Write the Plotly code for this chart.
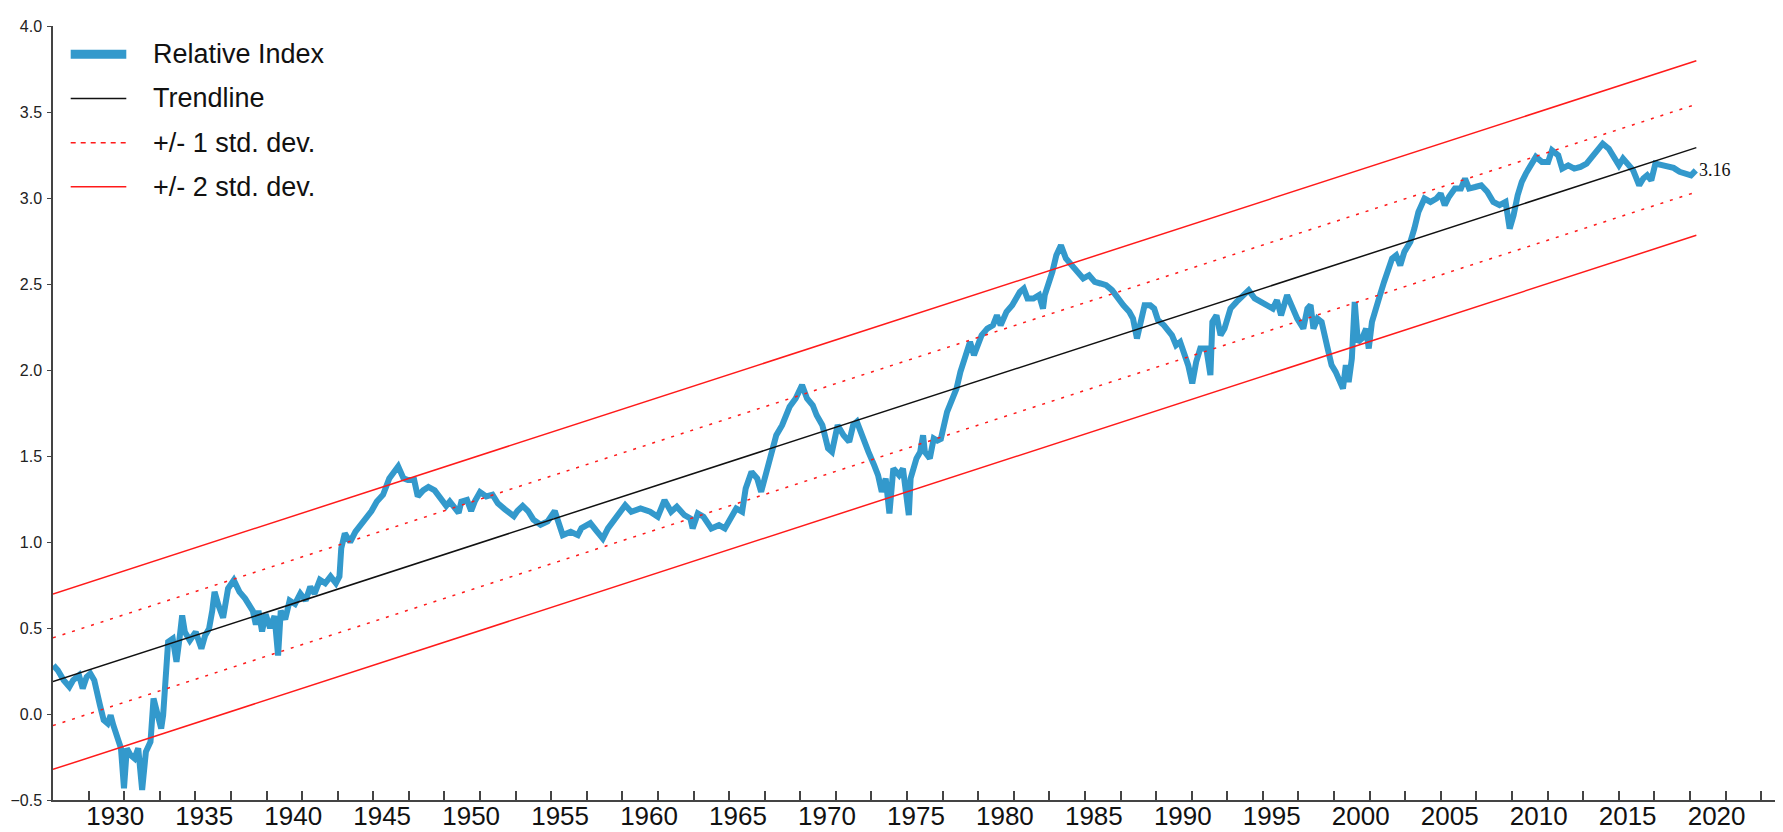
import plotly.graph_objects as go

# ---------------- data ----------------
years = [
    1926.52, 1926.77, 1927.10, 1927.42, 1927.63, 1927.96, 1928.17, 1928.39, 1928.60, 1928.82,
    1929.14, 1929.35, 1929.57, 1929.74, 1929.89, 1930.11, 1930.32, 1930.49, 1930.65, 1930.86,
    1931.08, 1931.29, 1931.51, 1931.72, 1931.98, 1932.15, 1932.37, 1932.58, 1932.69, 1932.84,
    1932.97, 1933.23, 1933.44, 1933.61, 1933.76, 1933.91, 1934.19, 1934.52, 1934.84, 1935.05,
    1935.27, 1935.45, 1935.58, 1935.80, 1936.06, 1936.34, 1936.66, 1936.98, 1937.30, 1937.73,
    1937.90, 1938.05, 1938.25, 1938.45, 1938.70, 1938.95, 1939.15, 1939.30, 1939.55, 1939.80,
    1940.10, 1940.40, 1940.70, 1940.96, 1941.20, 1941.50, 1941.80, 1942.10, 1942.40, 1942.60,
    1942.70, 1942.90, 1943.20, 1943.50, 1943.80, 1944.10, 1944.40, 1944.70, 1945.05, 1945.40,
    1945.65, 1945.90, 1946.20, 1946.45, 1946.80, 1947.00, 1947.30, 1947.60, 1947.95, 1948.27,
    1948.60, 1948.80, 1949.10, 1949.30, 1949.45, 1949.77, 1950.00, 1950.20, 1950.50, 1950.85,
    1951.20, 1951.50, 1951.90, 1952.40, 1952.60, 1952.90, 1953.20, 1953.50, 1953.90, 1954.30,
    1954.70, 1954.90, 1955.15, 1955.60, 1956.00, 1956.20, 1956.70, 1957.00, 1957.40, 1957.69,
    1958.12, 1958.66, 1959.00, 1959.52, 1960.06, 1960.49, 1960.87, 1961.24, 1961.56, 1961.99,
    1962.32, 1962.45, 1962.74, 1963.06, 1963.50, 1963.93, 1964.26, 1964.58, 1964.90, 1965.23,
    1965.43, 1965.76, 1966.08, 1966.30, 1966.50, 1966.72, 1966.98, 1967.15, 1967.48, 1967.70,
    1967.90, 1968.24, 1968.60, 1968.88, 1969.20, 1969.42, 1969.74, 1970.06, 1970.28, 1970.60,
    1970.93, 1971.25, 1971.47, 1971.68, 1972.00, 1972.33, 1972.65, 1972.87, 1973.08, 1973.30,
    1973.51, 1973.73, 1974.05, 1974.27, 1974.60, 1974.70, 1975.03, 1975.24, 1975.40, 1975.50,
    1975.78, 1976.00, 1976.20, 1976.40, 1976.75, 1977.07, 1977.28, 1977.50, 1977.83, 1978.04,
    1978.26, 1978.47, 1978.69, 1979.01, 1979.33, 1979.55, 1979.76, 1980.09, 1980.41, 1980.84,
    1981.06, 1981.27, 1981.60, 1981.92, 1982.14, 1982.24, 1982.46, 1982.67, 1982.89, 1983.15,
    1983.43, 1983.75, 1984.08, 1984.40, 1984.73, 1985.05, 1985.37, 1985.69, 1986.02, 1986.34,
    1986.66, 1986.99, 1987.20, 1987.42, 1987.63, 1987.85, 1988.17, 1988.39, 1988.60, 1988.94,
    1989.39, 1989.62, 1989.85, 1990.07, 1990.30, 1990.53, 1990.75, 1990.98, 1991.32, 1991.55,
    1991.66, 1991.89, 1992.12, 1992.34, 1992.68, 1993.02, 1993.36, 1993.70, 1994.04, 1994.38,
    1994.72, 1995.06, 1995.29, 1995.52, 1995.86, 1996.09, 1996.43, 1996.77, 1997.00, 1997.18,
    1997.34, 1997.57, 1997.80, 1998.14, 1998.36, 1998.59, 1998.82, 1999.00, 1999.16, 1999.32,
    1999.50, 1999.66, 1999.84, 2000.07, 2000.30, 2000.45, 2000.63, 2000.86, 2001.08, 2001.31,
    2001.54, 2001.76, 2001.99, 2002.22, 2002.45, 2002.79, 2003.01, 2003.24, 2003.58, 2003.92,
    2004.26, 2004.49, 2004.72, 2004.95, 2005.29, 2005.63, 2005.86, 2006.09, 2006.43, 2006.77,
    2007.11, 2007.45, 2007.80, 2008.14, 2008.37, 2008.59, 2008.82, 2009.05, 2009.28, 2009.50,
    2009.84, 2010.18, 2010.53, 2010.75, 2011.10, 2011.32, 2011.66, 2012.00, 2012.35, 2012.69,
    2013.03, 2013.37, 2013.60, 2013.94, 2014.28, 2014.51, 2014.74, 2014.97, 2015.31, 2015.65,
    2015.88, 2016.10, 2016.33, 2016.56, 2016.90, 2017.24, 2017.58, 2017.92, 2018.26, 2018.56,
    2018.83,
]
relative_index = [
    0.283, 0.254, 0.196, 0.158, 0.196, 0.225, 0.148, 0.216, 0.235, 0.196,
    0.051, -0.036, -0.055, -0.007, -0.065, -0.142, -0.200, -0.432, -0.200, -0.239,
    -0.258, -0.200, -0.442, -0.220, -0.162, 0.090, -0.007, -0.084, -0.007, 0.225,
    0.419, 0.438, 0.303, 0.438, 0.573, 0.477, 0.428, 0.477, 0.380, 0.457,
    0.496, 0.600, 0.710, 0.632, 0.560, 0.730, 0.778, 0.710, 0.671, 0.600,
    0.520, 0.600, 0.480, 0.580, 0.500, 0.570, 0.340, 0.600, 0.550, 0.660,
    0.640, 0.700, 0.660, 0.740, 0.700, 0.780, 0.760, 0.800, 0.760, 0.800,
    0.963, 1.050, 1.000, 1.060, 1.100, 1.150, 1.180, 1.235, 1.275, 1.370,
    1.400, 1.440, 1.370, 1.360, 1.360, 1.265, 1.300, 1.320, 1.300, 1.255,
    1.210, 1.235, 1.200, 1.170, 1.235, 1.245, 1.180, 1.235, 1.290, 1.265,
    1.275, 1.225, 1.190, 1.150, 1.180, 1.210, 1.180, 1.130, 1.100, 1.120,
    1.180, 1.120, 1.040, 1.060, 1.040, 1.080, 1.110, 1.070, 1.020, 1.079,
    1.137, 1.214, 1.176, 1.195, 1.176, 1.147, 1.243, 1.176, 1.205, 1.156,
    1.137, 1.079, 1.166, 1.147, 1.079, 1.098, 1.079, 1.137, 1.195, 1.176,
    1.311, 1.408, 1.369, 1.292, 1.369, 1.467, 1.563, 1.621, 1.679, 1.737,
    1.786, 1.834, 1.912, 1.834, 1.795, 1.737, 1.679, 1.544, 1.524, 1.679,
    1.621, 1.583, 1.679, 1.699, 1.602, 1.524, 1.447, 1.389, 1.292, 1.369,
    1.166, 1.427, 1.389, 1.427, 1.156, 1.369, 1.486, 1.524, 1.620, 1.524,
    1.486, 1.602, 1.590, 1.600, 1.757, 1.834, 1.892, 1.989, 2.086, 2.164,
    2.086, 2.144, 2.202, 2.241, 2.260, 2.318, 2.260, 2.338, 2.376, 2.454,
    2.473, 2.415, 2.415, 2.435, 2.357, 2.435, 2.493, 2.571, 2.667, 2.725,
    2.648, 2.609, 2.571, 2.532, 2.551, 2.512, 2.503, 2.493, 2.464, 2.415,
    2.376, 2.338, 2.299, 2.183, 2.299, 2.376, 2.376, 2.357, 2.290, 2.260,
    2.202, 2.144, 2.163, 2.105, 2.028, 1.922, 2.047, 2.125, 2.125, 1.970,
    2.280, 2.318, 2.202, 2.241, 2.357, 2.396, 2.435, 2.464, 2.416, 2.396,
    2.377, 2.357, 2.406, 2.318, 2.435, 2.377, 2.299, 2.241, 2.357, 2.377,
    2.241, 2.299, 2.280, 2.125, 2.028, 1.989, 1.930, 1.892, 2.028, 1.930,
    2.067, 2.396, 2.163, 2.183, 2.241, 2.125, 2.280, 2.377, 2.435, 2.512,
    2.590, 2.648, 2.667, 2.609, 2.687, 2.745, 2.822, 2.919, 2.997, 2.977,
    2.997, 3.026, 2.958, 3.006, 3.055, 3.055, 3.113, 3.055, 3.064, 3.074,
    3.036, 2.977, 2.958, 2.977, 2.822, 2.900, 3.016, 3.094, 3.142, 3.181,
    3.239, 3.210, 3.210, 3.277, 3.248, 3.171, 3.190, 3.171, 3.181, 3.200,
    3.248, 3.287, 3.316, 3.287, 3.219, 3.190, 3.229, 3.200, 3.161, 3.074,
    3.113, 3.132, 3.103, 3.200, 3.190, 3.181, 3.175, 3.152, 3.142, 3.132,
    3.160,
]

# straight lines: value at first and last year
line_years = [1926.5, 2018.86]
trendline = [0.188, 3.293]
plus_2sd = [0.698, 3.798]
plus_1sd = [0.443, 3.545]
minus_1sd = [-0.067, 3.035]
minus_2sd = [-0.322, 2.783]

label_years = [1930, 1935, 1940, 1945, 1950, 1955, 1960, 1965, 1970, 1975,
               1980, 1985, 1990, 1995, 2000, 2005, 2010, 2015, 2020]
minor_tick_years = [1928.5 + 2 * i for i in range(48)]
y_ticks = [-0.5, 0.0, 0.5, 1.0, 1.5, 2.0, 2.5, 3.0, 3.5, 4.0]

legend_names = ["Relative Index", "Trendline", "+/- 1 std. dev.", "+/- 2 std. dev."]

# ---------------- styling ----------------
BLUE = "#3399cc"
RED = "#ff1a1a"
SANS = "Liberation Sans, Arial, sans-serif"
DOT = "3px,7px"

fig = go.Figure()

fig.add_trace(go.Scatter(x=years, y=relative_index, mode="lines",
                         line=dict(color=BLUE, width=6), showlegend=False,
                         name=legend_names[0]))
for vals, dash in [(plus_2sd, "solid"), (minus_2sd, "solid"),
                   (plus_1sd, DOT), (minus_1sd, DOT)]:
    fig.add_trace(go.Scatter(x=line_years, y=vals, mode="lines",
                             line=dict(color=RED, width=1.5, dash=dash),
                             showlegend=False))
fig.add_trace(go.Scatter(x=line_years, y=trendline, mode="lines", xaxis="x2",
                         line=dict(color="#111111", width=1.5), showlegend=False,
                         name=legend_names[1]))

X_RANGE = [1926.5, 2023.9]
fig.update_layout(
    width=1783, height=832,
    paper_bgcolor="white", plot_bgcolor="white",
    margin=dict(l=45, r=5, t=17.5, b=40.3, autoexpand=False),
    showlegend=False,
    xaxis=dict(range=X_RANGE, tickvals=label_years, ticktext=[str(v) for v in label_years],
               ticks="", showgrid=False, zeroline=False,
               showline=True, linecolor="#444444", linewidth=2,
               tickfont=dict(family=SANS, size=26, color="#111111"),
               ticklabelstandoff=-8),
    xaxis2=dict(range=X_RANGE, overlaying="x", anchor="y", side="bottom",
                tickvals=minor_tick_years, showticklabels=False,
                ticks="inside", ticklen=9, tickwidth=1.5, tickcolor="#444444",
                showgrid=False, zeroline=False, showline=False),
    yaxis=dict(range=[-0.5, 4.0], tickvals=y_ticks, tickformat=".1f",
               ticks="outside", ticklen=4, tickwidth=1.2, tickcolor="#444444",
               showgrid=False, zeroline=False,
               showline=True, linecolor="#444444", linewidth=1.5,
               tickfont=dict(family=SANS, size=16, color="#222222"),
               ticklabelstandoff=2),
)

# end-value label
fig.add_annotation(x=years[-1], y=relative_index[-1], text=f"{relative_index[-1]:.2f}",
                   showarrow=False, xanchor="left", yanchor="middle", xshift=1,
                   font=dict(family="Liberation Serif, Times New Roman, serif", size=18,
                             color="#111111"))

# legend (drawn in paper coordinates)
PLOT_W = 1783 - 45 - 5
PLOT_H = 832 - 17.5 - 40.3
def px_x(p):
    return (p - 45) / PLOT_W
def px_y(p):
    return (832 - 40.3 - p) / PLOT_H

legend_rows = [45.7, 90.0, 134.3, 178.3]
legend_styles = [dict(color=BLUE, width=9), dict(color="#111111", width=1.5),
                 dict(color=RED, width=1.5, dash="5px,5px"), dict(color=RED, width=1.5)]
for name, row, style in zip(legend_names, legend_rows, legend_styles):
    fig.add_shape(type="line", xref="paper", yref="paper",
                  x0=px_x(62.7), x1=px_x(118.3), y0=px_y(row), y1=px_y(row),
                  line=style)
    fig.add_annotation(xref="paper", yref="paper", x=px_x(143), y=px_y(row),
                       text=name, showarrow=False, xanchor="left", yanchor="middle",
                       font=dict(family=SANS, size=27, color="#111111"))

fig.write_html("out.html")
